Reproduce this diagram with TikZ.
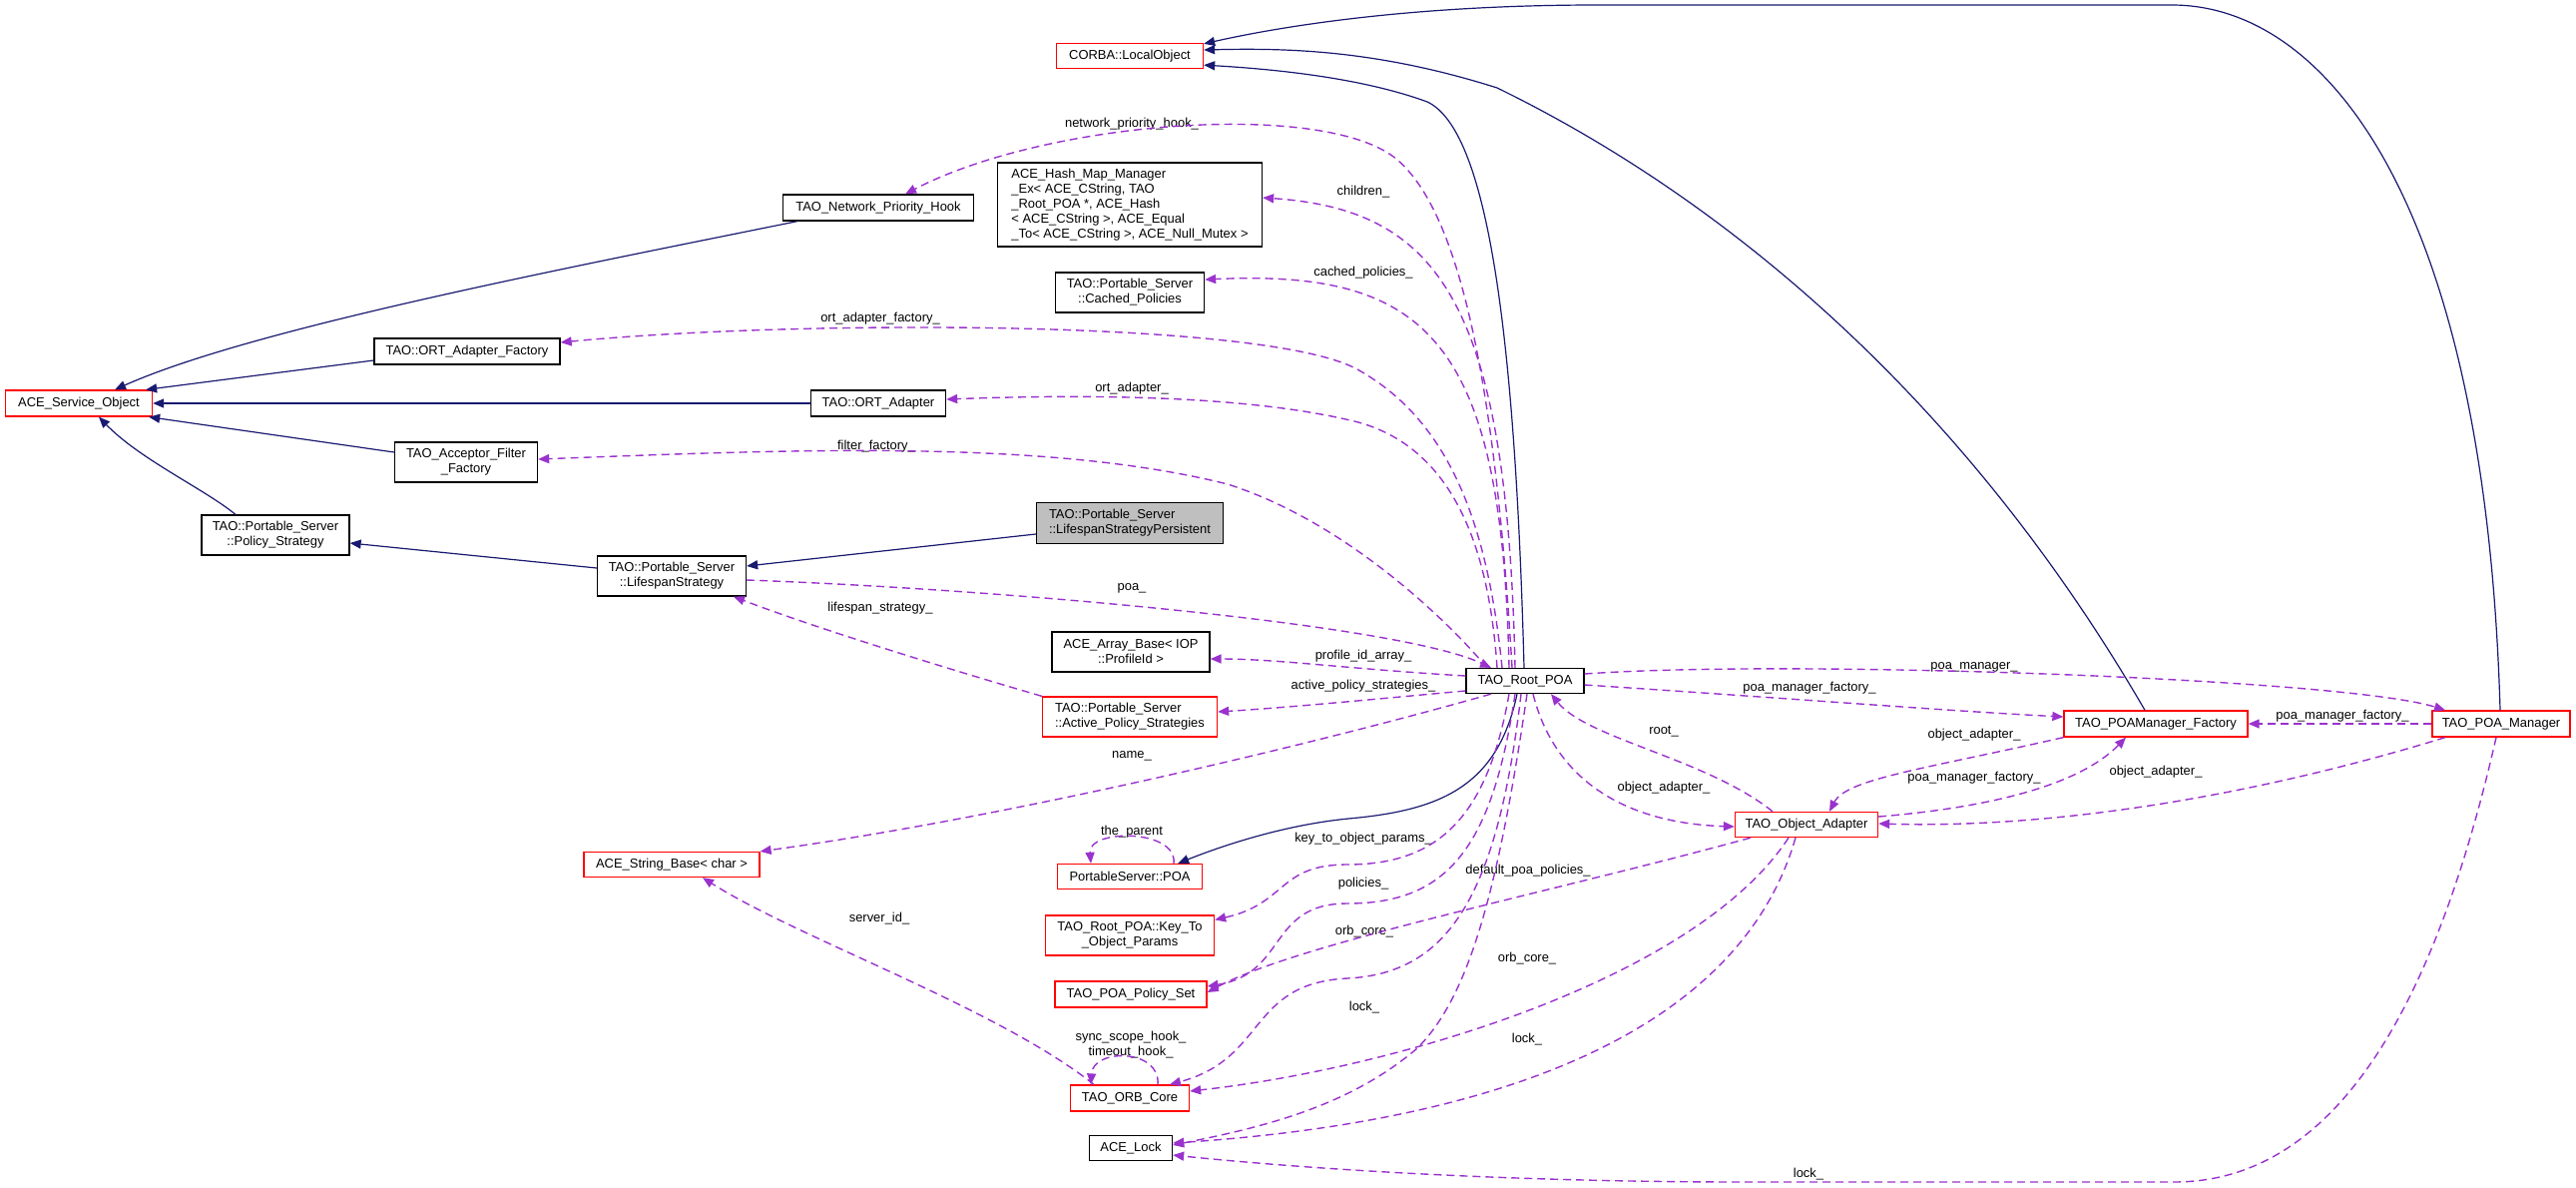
\documentclass[tikz,border=0pt]{standalone}
\usepackage{fontspec}
\setmainfont{Liberation Sans}
\usetikzlibrary{arrows.meta}
\definecolor{inhcol}{HTML}{191970}
\definecolor{usecol}{HTML}{9A32CD}
\definecolor{focusfill}{HTML}{BFBFBF}
\newcommand{\dfont}{\fontsize{13}{15}\selectfont}

\begin{document}
\begin{tikzpicture}[x=1bp,y=-1bp,
  wh/.style 2 args={minimum width=#1bp,minimum height=#2bp},
  cls/.style={draw=black,fill=white,line width=1.3bp,inner sep=0pt,align=center,font=\dfont},
  undoc/.style={cls,draw=red},
  focus/.style={cls,fill=focusfill},
  inh/.style={draw=inhcol,line width=1.2bp,-{Triangle[length=11bp,width=9bp]}},
  use/.style={draw=usecol,line width=1.4bp,dash pattern=on 8bp off 5bp,-{Triangle[length=11bp,width=9bp]}},
  lbl/.style={font=\dfont,inner sep=0pt,align=center}]
\useasboundingbox (0,0) rectangle (2581,1189);

% classes
\node[undoc,wh={147}{25}] (corba) at (1132,56) {CORBA::LocalObject};
\node[cls,wh={191}{26}] (nph) at (880,208) {TAO\_Network\_Priority\_Hook};
\node[cls,wh={265}{84},align=left] (hashmap) at (1132,205) {ACE\_Hash\_Map\_Manager\\\_Ex< ACE\_CString, TAO\\\_Root\_POA *, ACE\_Hash\\< ACE\_CString >, ACE\_Equal\\\_To< ACE\_CString >, ACE\_Null\_Mutex >};
\node[cls,wh={149}{40}] (cached) at (1132,293) {TAO::Portable\_Server\\::Cached\_Policies};
\node[cls,wh={186}{26}] (ortfac) at (468,352) {TAO::ORT\_Adapter\_Factory};
\node[undoc,wh={147}{26}] (aceso) at (79,404) {ACE\_Service\_Object};
\node[cls,wh={135}{26}] (ortad) at (880,404) {TAO::ORT\_Adapter};
\node[cls,wh={143}{40}] (accfilt) at (467,463) {TAO\_Acceptor\_Filter\\\_Factory};
\node[focus,wh={187}{41},align=left] (persist) at (1132,524) {TAO::Portable\_Server\\::LifespanStrategyPersistent};
\node[cls,wh={148}{40}] (polstrat) at (276,536) {TAO::Portable\_Server\\::Policy\_Strategy};
\node[cls,wh={149}{40}] (lifespan) at (673,577) {TAO::Portable\_Server\\::LifespanStrategy};
\node[cls,wh={158}{40}] (arraybase) at (1133,653) {ACE\_Array\_Base< IOP\\::ProfileId >};
\node[undoc,wh={175}{40},align=left] (active) at (1132,718) {TAO::Portable\_Server\\::Active\_Policy\_Strategies};
\node[cls,wh={118}{25}] (rootpoa) at (1528,682) {TAO\_Root\_POA};
\node[undoc,wh={176}{25}] (stringbase) at (673,866) {ACE\_String\_Base< char >};
\node[undoc,wh={145}{25}] (pspoa) at (1132,878) {PortableServer::POA};
\node[undoc,wh={169}{40}] (keyto) at (1132,937) {TAO\_Root\_POA::Key\_To\\\_Object\_Params};
\node[undoc,wh={152}{26}] (polset) at (1133,996) {TAO\_POA\_Policy\_Set};
\node[undoc,wh={119}{26}] (orbcore) at (1132,1100) {TAO\_ORB\_Core};
\node[cls,wh={83}{25}] (acelock) at (1133,1150) {ACE\_Lock};
\node[undoc,wh={184}{26}] (poamfac) at (2160,725) {TAO\_POAManager\_Factory};
\node[undoc,wh={138}{26}] (poaman) at (2506,725) {TAO\_POA\_Manager};
\node[undoc,wh={143}{25}] (objad) at (1810,826) {TAO\_Object\_Adapter};

% member labels
\node[lbl] (lnph) at (1134,124) {network\_priority\_hook\_};
\node[lbl] (lchildren) at (1366,192) {children\_};
\node[lbl] (lcached) at (1366,273) {cached\_policies\_};
\node[lbl] (lortfac) at (882,319) {ort\_adapter\_factory\_};
\node[lbl] (lortad) at (1134,389) {ort\_adapter\_};
\node[lbl] (lfilter) at (878,447) {filter\_factory\_};
\node[lbl] (lpoa) at (1134,589) {poa\_};
\node[lbl] (llifespan) at (882,609) {lifespan\_strategy\_};
\node[lbl] (lprofile) at (1366,657) {profile\_id\_array\_};
\node[lbl] (lactive) at (1366,687) {active\_policy\_strategies\_};
\node[lbl] (lname) at (1134,757) {name\_};
\node[lbl] (lparent) at (1134,833) {the\_parent};
\node[lbl] (lkeyto) at (1366,840) {key\_to\_object\_params\_};
\node[lbl] (lpolicies) at (1366,885) {policies\_};
\node[lbl] (lorbone) at (1367,933) {orb\_core\_};
\node[lbl] (llockone) at (1367,1009) {lock\_};
\node[lbl] (ldefault) at (1531,872) {default\_poa\_policies\_};
\node[lbl] (lorbtwo) at (1530,960) {orb\_core\_};
\node[lbl] (llocktwo) at (1530,1041) {lock\_};
\node[lbl] (lhooks) at (1133,1047) {sync\_scope\_hook\_\\timeout\_hook\_};
\node[lbl] (lserver) at (881,920) {server\_id\_};
\node[lbl] (lpoaman) at (1978,668) {poa\_manager\_};
\node[lbl] (lpmfone) at (1813,689) {poa\_manager\_factory\_};
\node[lbl] (lroot) at (1667,733) {root\_};
\node[lbl] (loaone) at (1978,736) {object\_adapter\_};
\node[lbl] (lpmftwo) at (2347,717) {poa\_manager\_factory\_};
\node[lbl] (lpmfthree) at (1978,779) {poa\_manager\_factory\_};
\node[lbl] (loatwo) at (2160,773) {object\_adapter\_};
\node[lbl] (loathree) at (1667,789) {object\_adapter\_};
\node[lbl] (llockthree) at (1812,1176) {lock\_};

% inheritance
\draw[inh] ([shift={(15,0)}]nph.south west) .. controls (560,270) and (250,330) .. ([shift={(36,0)}]aceso.north);
\draw[inh] ([shift={(0,9)}]ortfac.west) -- ([shift={(-7,0)}]aceso.north east);
\draw[inh] (ortad.west) -- (aceso.east);
\draw[inh] ([shift={(0,-10)}]accfilt.west) -- ([shift={(-4,0)}]aceso.south east);
\draw[inh] ([shift={(-40,0)}]polstrat.north) .. controls (205,490) and (140,460) .. ([shift={(20,0)}]aceso.south);
\draw[inh] ([shift={(0,-8)}]lifespan.west) -- ([shift={(0,8)}]polstrat.east);
\draw[inh] ([shift={(0,11)}]persist.west) -- ([shift={(0,-10)}]lifespan.east);
\draw[inh] ([shift={(-1,0)}]rootpoa.north) .. controls (1518,330) and (1490,130) .. (1430,102) .. controls (1370,80) and (1290,70) .. ([shift={(0,-4)}]corba.south east);
\draw[inh] ([shift={(-11,0)}]poamfac.north) .. controls (1980,420) and (1750,210) .. (1500,88) .. controls (1380,50) and (1290,48) .. ([shift={(0,-6)}]corba.east);
\draw[inh] ([shift={(-1,0)}]poaman.north) .. controls (2490,200) and (2330,5) .. (2176,5) -- (1600,5) .. controls (1420,5) and (1290,25) .. ([shift={(0,1)}]corba.north east);
\draw[inh] ([shift={(-8,0)}]rootpoa.south) .. controls (1500,790) and (1440,812) .. (1351,820) .. controls (1290,826) and (1230,845) .. ([shift={(-25,0)}]pspoa.north east);

% members of TAO_Root_POA
\draw[use] ([shift={(-13,0)}]rootpoa.north) .. controls (1500,420) and (1470,220) .. (1400,160) .. controls (1330,100) and (1050,120) .. ([shift={(27,0)}]nph.north);
\draw[use] ([shift={(-10,0)}]rootpoa.north) .. controls (1510,300) and (1440,210) .. ([shift={(0,-7)}]hashmap.east);
\draw[use] ([shift={(-16,0)}]rootpoa.north) .. controls (1505,340) and (1430,270) .. ([shift={(0,-13)}]cached.east);
\draw[use] ([shift={(-23,0)}]rootpoa.north) .. controls (1490,520) and (1450,420) .. (1360,370) .. controls (1270,320) and (800,320) .. ([shift={(0,-9)}]ortfac.east);
\draw[use] ([shift={(-28,0)}]rootpoa.north) .. controls (1490,520) and (1440,445) .. (1361,423) .. controls (1250,395) and (1080,395) .. ([shift={(0,-4)}]ortad.east);
\draw[use] ([shift={(-38,0)}]rootpoa.north) .. controls (1440,610) and (1340,520) .. (1230,485) .. controls (1050,440) and (800,450) .. ([shift={(0,-3)}]accfilt.east);
\draw[use] ([shift={(0,-5)}]rootpoa.west) .. controls (1350,670) and (1280,660) .. ([shift={(0,7)}]arraybase.east);
\draw[use] ([shift={(0,10)}]rootpoa.west) .. controls (1380,700) and (1300,708) .. ([shift={(0,-5)}]active.east);
\draw[use] ([shift={(-34,0)}]rootpoa.south) .. controls (1300,750) and (1000,820) .. (stringbase.north east);
\draw[use] ([shift={(-16,0)}]rootpoa.south) .. controls (1490,820) and (1440,866) .. (1350,866) .. controls (1280,866) and (1290,905) .. ([shift={(0,5)}]keyto.north east);
\draw[use] ([shift={(-10,0)}]rootpoa.south) .. controls (1495,850) and (1450,905) .. (1350,905) .. controls (1270,905) and (1290,975) .. ([shift={(0,-8)}]polset.east);
\draw[use] ([shift={(-4,0)}]rootpoa.south) .. controls (1500,900) and (1450,975) .. (1350,980) .. controls (1250,985) and (1270,1060) .. ([shift={(40,0)}]orbcore.north);
\draw[use] ([shift={(2,0)}]rootpoa.south) .. controls (1500,900) and (1470,1000) .. (1420,1050) .. controls (1350,1110) and (1260,1130) .. ([shift={(0,-3)}]acelock.east);
\draw[use] ([shift={(8,0)}]rootpoa.south) .. controls (1560,790) and (1640,825) .. ([shift={(0,2)}]objad.west);
\draw[use] ([shift={(0,-7)}]rootpoa.east) .. controls (1800,660) and (2350,680) .. ([shift={(-56,0)}]poaman.north);
\draw[use] ([shift={(0,4)}]rootpoa.east) .. controls (1800,700) and (1950,712) .. ([shift={(0,-7)}]poamfac.west);

% members of the other classes
\draw[use] (active.north west) .. controls (950,670) and (820,630) .. ([shift={(62,0)}]lifespan.south);
\draw[use] ([shift={(0,4)}]lifespan.east) .. controls (1000,590) and (1400,625) .. ([shift={(-34,0)}]rootpoa.north);
\draw[use] ([shift={(44,0)}]pspoa.north) .. controls (1180,830) and (1090,830) .. ([shift={(-39,0)}]pspoa.north);
\draw[use] ([shift={(-36,0)}]orbcore.north) .. controls (1000,1010) and (800,940) .. ([shift={(31,0)}]stringbase.south);
\draw[use] ([shift={(28,0)}]orbcore.north) .. controls (1163,1050) and (1095,1050) .. ([shift={(-39,0)}]orbcore.north);
\draw[use] ([shift={(-34,0)}]objad.north) .. controls (1710,760) and (1590,740) .. ([shift={(26,0)}]rootpoa.south);
\draw[use] ([shift={(-56,0)}]objad.south) .. controls (1550,895) and (1300,945) .. ([shift={(0,-2)}]polset.east);
\draw[use] ([shift={(-18,0)}]objad.south) .. controls (1700,980) and (1400,1070) .. ([shift={(0,-7)}]orbcore.east);
\draw[use] ([shift={(-11,0)}]objad.south) .. controls (1750,1010) and (1550,1120) .. ([shift={(0,-5)}]acelock.east);
\draw[use] ([shift={(0,-8)}]objad.east) .. controls (1980,810) and (2080,790) .. ([shift={(-30,0)}]poamfac.south);
\draw[use] (poamfac.south west) .. controls (1930,770) and (1850,780) .. ([shift={(23,0)}]objad.north);
\draw[use] (poaman.west) -- (poamfac.east);
\draw[use] ([shift={(-56,0)}]poaman.south) .. controls (2250,800) and (2050,830) .. ([shift={(0,-1)}]objad.east);
\draw[use] ([shift={(-5,0)}]poaman.south) .. controls (2430,1050) and (2320,1184) .. (2178,1184) -- (1750,1184) .. controls (1500,1184) and (1300,1170) .. ([shift={(0,7)}]acelock.east);
\end{tikzpicture}
\end{document}
